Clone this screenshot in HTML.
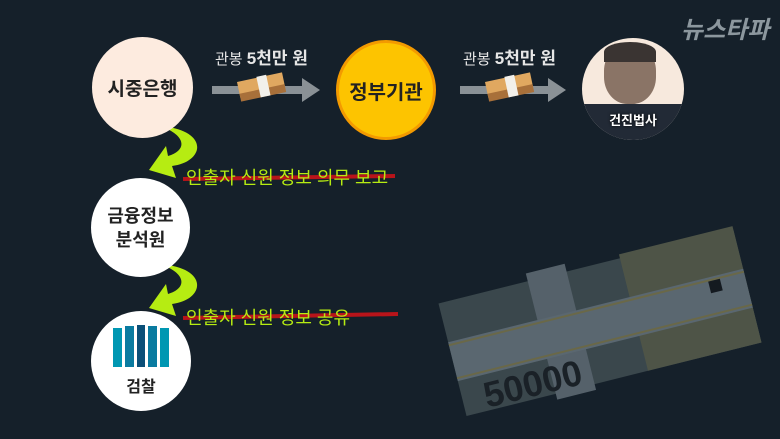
<!DOCTYPE html>
<html><head><meta charset="utf-8"><style>
body{margin:0;width:780px;height:439px;background:#15202a;overflow:hidden;position:relative;font-family:"Liberation Sans","Noto Sans CJK KR",sans-serif}
.c{position:absolute;border-radius:50%;display:flex;align-items:center;justify-content:center;text-align:center;font-weight:bold;color:#222;}
.t{position:absolute;white-space:nowrap}
</style></head><body>
<svg width="780" height="439" style="position:absolute;left:0;top:0">
  <g transform="translate(600,323) rotate(-14)">
    <rect x="-152" y="-58" width="304" height="116" fill="#3a474c"/>
    <rect x="35" y="-62" width="117" height="120" fill="#4e5447"/>
    <rect x="-60" y="-66" width="40" height="130" fill="#55616a"/>
    <rect x="-152" y="-18" width="304" height="40" fill="#5a6770"/>
    <rect x="-152" y="-16" width="304" height="2" fill="#6a6848"/>
    <rect x="-152" y="18" width="304" height="2" fill="#6a6848"/>
    <text x="-130" y="55" font-size="36" font-weight="bold" fill="#1a2127" font-family="Liberation Sans">50000</text>
    <rect x="115" y="-14" width="12" height="12" fill="#141a20"/>
  </g>
  <rect x="212" y="86" width="92" height="8" fill="#8a9196"/>
  <polygon points="302,78 320,90 302,102" fill="#8a9196"/>
  <rect x="460" y="86" width="90" height="8" fill="#8a9196"/>
  <polygon points="548,78 566,90 548,102" fill="#8a9196"/>
  <g transform="translate(237,82) rotate(-12)">
    <rect x="0" y="0" width="46" height="16" fill="#e0a860"/>
    <rect x="0" y="12" width="46" height="8" fill="#a8703a"/>
    <rect x="20" y="-1" width="10" height="21" fill="#f2f0ea"/>
  </g>
  <g transform="translate(485,82) rotate(-12)">
    <rect x="0" y="0" width="46" height="16" fill="#e0a860"/>
    <rect x="0" y="12" width="46" height="8" fill="#a8703a"/>
    <rect x="20" y="-1" width="10" height="21" fill="#f2f0ea"/>
  </g>
  <path d="M160,126 C210,130 205,162 172,166 L176,178 L149,170 L166,146 L168,156 C188,150 186,135 160,126 Z" fill="#b6ec12"/>
  <path d="M160,264 C210,268 205,300 172,304 L176,316 L149,308 L166,284 L168,294 C188,288 186,273 160,264 Z" fill="#b6ec12"/>
  <path d="M183,179 L395,176" stroke="#b8141a" stroke-width="4"/>
  <path d="M183,318 L398,314" stroke="#b8141a" stroke-width="4"/>
</svg>
<div class="c" style="left:92px;top:37px;width:101px;height:101px;background:#fdebdf;font-size:19px">시중은행</div>
<div class="c" style="left:336px;top:40px;width:94px;height:94px;background:#fdc400;border:3px solid #f39a00;font-size:20px">정부기관</div>
<div class="c" style="left:582px;top:38px;width:102px;height:102px;background:#f7e9dd;overflow:hidden">
  <div style="position:absolute;left:22px;top:6px;width:52px;height:60px;border-radius:45%;background:#8a7466"></div>
  <div style="position:absolute;left:22px;top:4px;width:52px;height:20px;border-radius:50% 50% 0 0;background:#3a3432"></div>
  <div style="position:absolute;bottom:0;left:0;width:102px;height:36px;background:#222a36"></div>
  <div class="t" style="position:relative;top:30px;color:#fff;font-size:13px;text-shadow:0 0 3px #000">건진법사</div></div>
<div class="c" style="left:91px;top:178px;width:99px;height:99px;background:#fff;font-size:18px;line-height:24px">금융정보<br>분석원</div>
<div class="c" style="left:91px;top:311px;width:100px;height:100px;background:#fff;flex-direction:column">
  <svg width="56" height="42" viewBox="0 0 56 42"><rect x="0" y="3" width="9" height="39" fill="#0097b2"/><rect x="12" y="1" width="9" height="41" fill="#0a7ba0"/><rect x="24" y="0" width="8" height="42" fill="#0b4f78"/><rect x="35" y="1" width="9" height="41" fill="#0a7ba0"/><rect x="47" y="3" width="9" height="39" fill="#0097b2"/></svg>
  <div style="font-size:16px;margin-top:6px">검찰</div></div>
<div class="t" style="left:215px;top:44px;color:#e6e6e6;font-size:15px">관봉 <b style="font-size:17px">5천만 원</b></div>
<div class="t" style="left:463px;top:44px;color:#e6e6e6;font-size:15px">관봉 <b style="font-size:17px">5천만 원</b></div>
<div class="t" style="left:186px;top:164px;color:#b6ec12;font-size:18px">인출자 신원 정보 의무 보고</div>
<div class="t" style="left:186px;top:304px;color:#b6ec12;font-size:18px">인출자 신원 정보 공유</div>
<div class="t" style="left:681px;top:10px;color:#8c979e;font-size:24px;font-weight:bold;font-style:italic">뉴스타파</div>
</body></html>
